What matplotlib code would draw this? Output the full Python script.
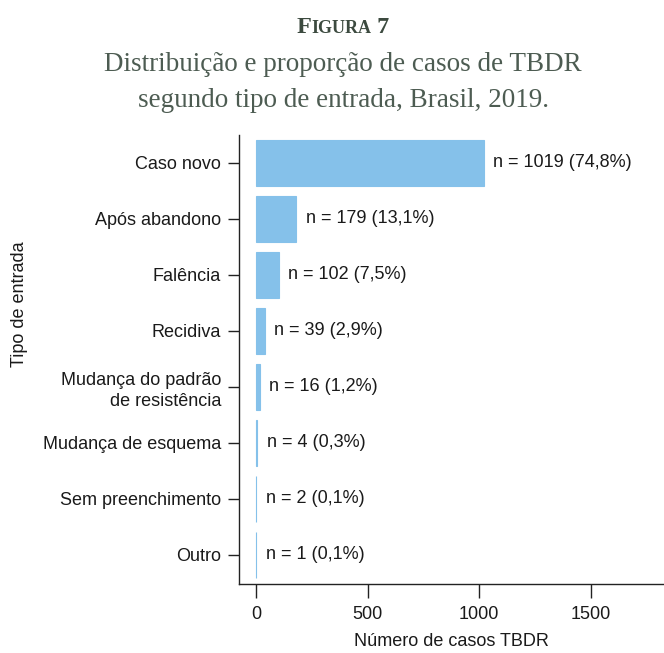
import matplotlib
matplotlib.use("Agg")
import matplotlib.pyplot as plt
from matplotlib import font_manager

categories = ["Caso novo", "Após abandono", "Falência", "Recidiva",
              "Mudança do padrão\nde resistência", "Mudança de esquema",
              "Sem preenchimento", "Outro"]
values = [1019, 179, 102, 39, 16, 4, 2, 1]
percents = ["74,8%", "13,1%", "7,5%", "2,9%", "1,2%", "0,3%", "0,1%", "0,1%"]
xticks = [0, 500, 1000, 1500]

names = {f.name for f in font_manager.fontManager.ttflist}
sans = "Liberation Sans Narrow" if "Liberation Sans Narrow" in names else "Liberation Sans"
plt.rcParams['font.family'] = [sans, 'DejaVu Sans']

W, H = 664, 653
fig = plt.figure(figsize=(W / 100, H / 100), dpi=100)
ax = fig.add_axes([239 / W, (H - 584) / H, (W - 239) / W, (584 - 135) / H])

bar_color = "#85C1EA"
ypos = list(range(len(categories)))
ax.barh(ypos, values, height=0.82, color=bar_color, edgecolor=bar_color, linewidth=0.8)
for y, v, p in zip(ypos, values, percents):
    ax.annotate(f"n = {v} ({p})", xy=(v, y), xytext=(7, 0), textcoords="offset points",
                ha="left", va="center", fontsize=13, color="#1a1a1a")

ax.set_ylim(len(categories) - 0.48, -0.5)
ax.set_xlim(-76, 1827)
ax.set_yticks(ypos)
ax.set_yticklabels(categories, fontsize=13, color="#1a1a1a", linespacing=1.3)
ax.set_xticks(xticks)
ax.set_xticklabels([str(t) for t in xticks], fontsize=13, color="#1a1a1a")
ax.tick_params(axis="y", length=8, width=1.0, color="#222222", pad=5)
ax.tick_params(axis="x", length=10, width=1.0, color="#222222", pad=6)
for s in ["top", "right"]:
    ax.spines[s].set_visible(False)
for s in ["left", "bottom"]:
    ax.spines[s].set_linewidth(1.0)
    ax.spines[s].set_color("#222222")

fig.text(451 / W, (H - 641) / H, "Número de casos TBDR", fontsize=13,
         color="#1a1a1a", ha="center", va="center")
fig.text(20 / W, (H - 304) / H, "Tipo de entrada", rotation=90, fontsize=13,
         color="#1a1a1a", ha="center", va="center")

# Title
serif = "Liberation Serif"
title_color = "#3c4a3f"
sub_color = "#4d5c52"
fig.text(343 / W, (H - 71) / H, "Distribuição e proporção de casos de TBDR",
         family=serif, fontsize=19.5, color=sub_color, ha="center", va="baseline")
fig.text(343 / W, (H - 107) / H, "segundo tipo de entrada, Brasil, 2019.",
         family=serif, fontsize=19.5, color=sub_color, ha="center", va="baseline")

# Small-caps "FIGURA 7"
parts = [("F", 17.5), ("IGURA", 13), (" 7", 17.5)]
renderer = fig.canvas.get_renderer()
texts = []
for s, fs in parts:
    t = fig.text(0, (H - 33) / H, s, family=serif, fontsize=fs, weight="bold",
                 color=title_color, ha="left", va="baseline")
    texts.append(t)
widths = [t.get_window_extent(renderer).width for t in texts]
total = sum(widths)
start = 343 - total / 2
for t, w in zip(texts, widths):
    t.set_x(start / W)
    start += w

fig.savefig("out.png", dpi=100)
